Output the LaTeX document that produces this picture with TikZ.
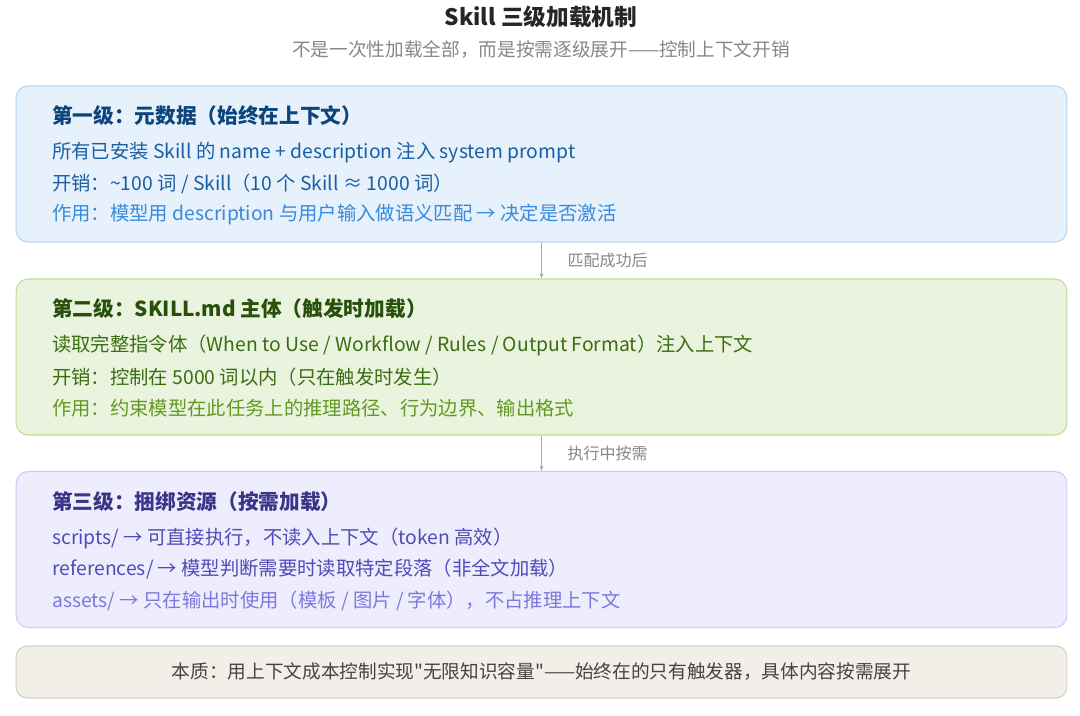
\documentclass[tikz,border=0pt]{standalone}
\usepackage{fontspec}
\setmainfont{Noto Sans CJK SC}[Ligatures=TeXReset]
\usetikzlibrary{positioning,arrows.meta}

\definecolor{blueFill}{HTML}{E6F1FB}
\definecolor{blueLine}{HTML}{B5D4F4}
\definecolor{blueDark}{HTML}{0C447C}
\definecolor{blueText}{HTML}{185FA5}
\definecolor{blueLight}{HTML}{378ADD}
\definecolor{greenFill}{HTML}{EAF3DE}
\definecolor{greenLine}{HTML}{C0DD97}
\definecolor{greenDark}{HTML}{27500A}
\definecolor{greenText}{HTML}{3B6D11}
\definecolor{greenLight}{HTML}{639922}
\definecolor{purpleFill}{HTML}{EEEDFE}
\definecolor{purpleLine}{HTML}{CECBF6}
\definecolor{purpleDark}{HTML}{3C3489}
\definecolor{purpleText}{HTML}{534AB7}
\definecolor{purpleLight}{HTML}{7F77DD}
\definecolor{noteFill}{HTML}{F1EFE8}
\definecolor{noteLine}{HTML}{D3D1C7}
\definecolor{noteText}{HTML}{444441}
\definecolor{greyText}{HTML}{888780}

\begin{document}
\begin{tikzpicture}[x=0.75pt, y=-0.75pt,
    level/.style={rectangle, rounded corners=9pt, line width=0.8pt, minimum width=788pt, minimum height=117pt},
    head/.style={anchor=west, inner sep=0pt, font=\fontsize{15.5}{18}\selectfont\bfseries},
    line/.style={anchor=west, inner sep=0pt, font=\fontsize{14.5}{17}\selectfont},
    flow/.style={-{Stealth[length=4pt, width=3pt]}, draw=greyText!70, line width=0.6pt},
    flowlabel/.style={right, xshift=16pt, text=greyText, font=\fontsize{12}{14}\selectfont}]

    \useasboundingbox (0,0) rectangle (1080,716);

    % title
    \node[font=\fontsize{17}{20}\selectfont\bfseries, text=black!85] (title) at (541,17) {Skill 三级加载机制};
    \node[font=\fontsize{14}{16}\selectfont, text=greyText] (subtitle) at (541,50) {不是一次性加载全部，而是按需逐级展开——控制上下文开销};

    % level 1
    \node[level, fill=blueFill, draw=blueLine] (meta) at (541.5,164) {};
    \node[head, text=blueDark] (metahead) at (52,116) {第一级：元数据（始终在上下文）};
    \node[line, text=blueText] (meta1) at (52,153) {所有已安装 Skill 的 name + description 注入 system prompt};
    \node[line, text=blueText] (meta2) at (52,184) {开销：\textasciitilde 100 词 / Skill（10 个 Skill ≈ 1000 词）};
    \node[line, text=blueLight] (meta3) at (52,215) {作用：模型用 description 与用户输入做语义匹配 → 决定是否激活};

    % level 2
    \node[level, fill=greenFill, draw=greenLine] (body) at (541.5,357) {};
    \node[head, text=greenDark] (bodyhead) at (52,309) {第二级：SKILL.md 主体（触发时加载）};
    \node[line, text=greenText] (body1) at (52,345) {读取完整指令体（When to Use / Workflow / Rules / Output Format）注入上下文};
    \node[line, text=greenText] (body2) at (52,377) {开销：控制在 5000 词以内（只在触发时发生）};
    \node[line, text=greenLight] (body3) at (52,408) {作用：约束模型在此任务上的推理路径、行为边界、输出格式};

    % level 3
    \node[level, fill=purpleFill, draw=purpleLine] (res) at (541.5,549.5) {};
    \node[head, text=purpleDark] (reshead) at (52,502) {第三级：捆绑资源（按需加载）};
    \node[line, text=purpleText] (res1) at (52,538) {scripts/ → 可直接执行，不读入上下文（token 高效）};
    \node[line, text=purpleText] (res2) at (52,569) {references/ → 模型判断需要时读取特定段落（非全文加载）};
    \node[line, text=purpleLight] (res3) at (52,601) {assets/ → 只在输出时使用（模板 / 图片 / 字体），不占推理上下文};

    \draw[flow] (meta.south) -- node[flowlabel] {匹配成功后} (body.north);
    \draw[flow] (body.south) -- node[flowlabel] {执行中按需} (res.north);

    % summary
    \node[rectangle, rounded corners=8pt, line width=0.8pt, fill=noteFill, draw=noteLine, minimum width=788pt, minimum height=39pt,
        text=noteText, font=\fontsize{14}{16}\selectfont] (note) at (541.5,672) {本质：用上下文成本控制实现"无限知识容量"——始终在的只有触发器，具体内容按需展开};

\end{tikzpicture}
\end{document}
